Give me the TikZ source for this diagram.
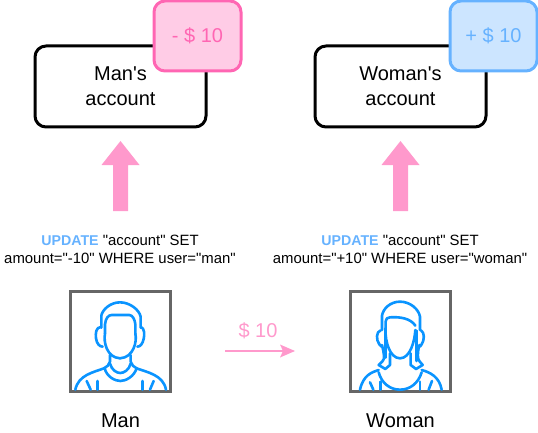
\documentclass[tikz,border=0pt]{standalone}
\usepackage{fontspec}
\newfontfamily\plainsans{Liberation Sans}
\definecolor{pinkline}{HTML}{FF66B3}
\definecolor{pinkfill}{HTML}{FFCCE6}
\definecolor{pinkarrow}{HTML}{FF99CC}
\definecolor{blueline}{HTML}{66B2FF}
\definecolor{bluefill}{HTML}{CCE5FF}
\definecolor{figline}{HTML}{0A94FF}
\definecolor{framegray}{HTML}{666666}
\tikzset{
  acctbox/.style={draw=black,line width=3pt,rounded corners=11pt,fill=white,minimum width=171pt,minimum height=81pt,inner sep=0pt,align=center,font=\plainsans\fontsize{20}{25}\selectfont},
  tagpink/.style={draw=pinkline,fill=pinkfill,line width=3pt,rounded corners=11pt,minimum width=87pt,minimum height=70pt,inner sep=0pt,text=pinkline,font=\plainsans\fontsize{20}{24}\selectfont},
  tagblue/.style={draw=blueline,fill=bluefill,line width=3pt,rounded corners=11pt,minimum width=87pt,minimum height=70pt,inner sep=0pt,text=blueline,font=\plainsans\fontsize{20}{24}\selectfont},
  uparrow/.style={fill=pinkarrow,draw=none},
  sqltext/.style={align=center,inner sep=0pt,font=\plainsans\fontsize{14.9}{18}\selectfont},
  labeltext/.style={inner sep=0pt,font=\plainsans\fontsize{20}{24}\selectfont},
  framebox/.style={draw=framegray,line width=3pt,fill=white,minimum width=100pt,minimum height=100pt,inner sep=0pt},
  figstroke/.style={draw=figline,line width=2.6pt,line cap=round,line join=round},
}
\newcommand{\kw}[1]{\textcolor{blueline}{\fontsize{14.2}{18}\selectfont\bfseries #1}}
\begin{document}
\begin{tikzpicture}[x=1pt,y=-1pt]
\useasboundingbox (0,0) rectangle (538,433);
% accounts
\node[acctbox] (manacc) at (120.5,86.5) {Man's\\account};
\node[tagpink] (mantag) at (197.5,36) {- \$ 10};
\node[acctbox] (womacc) at (400.5,86.5) {Woman's\\account};
\node[tagblue] (womtag) at (493.5,36) {+ \$ 10};
% up arrows
\fill[uparrow] (120.5,141) -- (139.5,165) -- (128,165) -- (128,211) -- (113,211) -- (113,165) -- (101.5,165) -- cycle;
\fill[uparrow] (400.5,141) -- (419.5,165) -- (408,165) -- (408,211) -- (393,211) -- (393,165) -- (381.5,165) -- cycle;
% SQL
\node[sqltext] (mansql) at (120,249.5) {\kw{UPDATE} "account" SET\\amount="-10" WHERE user="man"};
\node[sqltext] (womsql) at (400,249.5) {\kw{UPDATE} "account" SET\\amount="+10" WHERE user="woman"};
% frames
\node[framebox] (manframe) at (120.5,341.5) {};
\node[framebox] (womframe) at (400.5,341.5) {};
% man figure (zoom coordinates)
\begin{scope}[shift={(60,285)},x=0.3333pt,y=-0.3333pt]
\draw[figstroke] (124,128) -- (124,92) .. controls (127,75) and (150,52) .. (180,52) .. controls (210,52) and (238,75) .. (242,95) -- (242,128);
\draw[figstroke] (135,146) -- (135,118) .. controls (137,100) and (145,90) .. (155,90) -- (208,90) .. controls (218,90) and (225,105) .. (226,118) -- (226,146);
\draw[figstroke] (135,146) .. controls (130,170) and (140,218) .. (180,220) .. controls (220,218) and (232,170) .. (226,146);
\draw[figstroke] (123,126) .. controls (108,126) and (106,145) .. (108,160) .. controls (110,175) and (118,185) .. (128,185);
\draw[figstroke] (243,126) .. controls (254,130) and (254,150) .. (251,162) .. controls (248,175) and (242,185) .. (232,185);
\draw[figstroke] (150,210) -- (150,230) .. controls (148,240) and (140,246) .. (132,250) .. controls (100,262) and (55,270) .. (46,314);
\draw[figstroke] (212,210) -- (212,230) .. controls (214,240) and (222,246) .. (230,250) .. controls (262,262) and (310,270) .. (318,314);
\draw[figstroke] (134,250) .. controls (140,275) and (165,288) .. (181,288) .. controls (197,288) and (222,275) .. (230,250);
\draw[figstroke] (150,236) .. controls (155,255) and (170,264) .. (181,264) .. controls (192,264) and (207,255) .. (212,236);
\draw[figstroke] (80,288) -- (92,314);
\draw[figstroke] (113,288) -- (113,314);
\draw[figstroke] (248,288) -- (248,314);
\draw[figstroke] (281,288) -- (270,314);
\end{scope}
% woman figure
\begin{scope}[shift={(340,285)},x=0.3333pt,y=-0.3333pt]
\draw[figstroke] (126,135) -- (126,92) .. controls (129,72) and (150,50) .. (180,50) .. controls (210,50) and (236,72) .. (240,95) -- (240,135);
\draw[figstroke] (137,135) -- (137,110) .. controls (139,100) and (143,97) .. (150,97) .. controls (180,95) and (212,100) .. (226,122);
\draw[figstroke] (137,135) .. controls (135,170) and (150,220) .. (180,220) .. controls (210,220) and (224,170) .. (226,135);
\draw[figstroke] (137,130) -- (137,218);
\draw[figstroke] (229,137) -- (229,228);
\draw[figstroke] (122,136) .. controls (108,140) and (108,165) .. (118,178) -- (125,185);
\draw[figstroke] (243,136) .. controls (254,142) and (254,165) .. (245,178) -- (240,185);
\draw[figstroke] (126,180) .. controls (132,205) and (135,222) .. (128,228) -- (116,240) -- (136,252) -- (150,240) -- (150,205);
\draw[figstroke] (238,180) .. controls (232,205) and (232,222) .. (238,228) -- (248,240) -- (228,252) -- (212,240) -- (212,205);
\draw[figstroke] (116,255) .. controls (95,262) and (70,270) .. (60,314);
\draw[figstroke] (245,255) .. controls (270,262) and (298,275) .. (305,314);
\draw[figstroke] (116,262) .. controls (125,295) and (150,314) .. (180,314) .. controls (210,314) and (235,295) .. (245,262);
\draw[figstroke] (90,292) -- (100,314);
\draw[figstroke] (122,290) -- (122,314);
\draw[figstroke] (240,290) -- (240,314);
\draw[figstroke] (276,288) -- (266,314);
\end{scope}
% labels
\node[labeltext] (manlab) at (120.5,421) {Man};
\node[labeltext] (womlab) at (400.5,421) {Woman};
% transfer arrow
\coordinate (tstart) at (225,351);
\coordinate (tend) at (295,351);
\draw[draw=pinkarrow,line width=2pt] (tstart) -- (288,351);
\fill[pinkarrow] (tend) -- (280,344.5) -- (283,351) -- (280,357.5) -- cycle;
\node[labeltext,text=pinkarrow] (amount) at (258,331) {\$ 10};
\end{tikzpicture}
\end{document}
